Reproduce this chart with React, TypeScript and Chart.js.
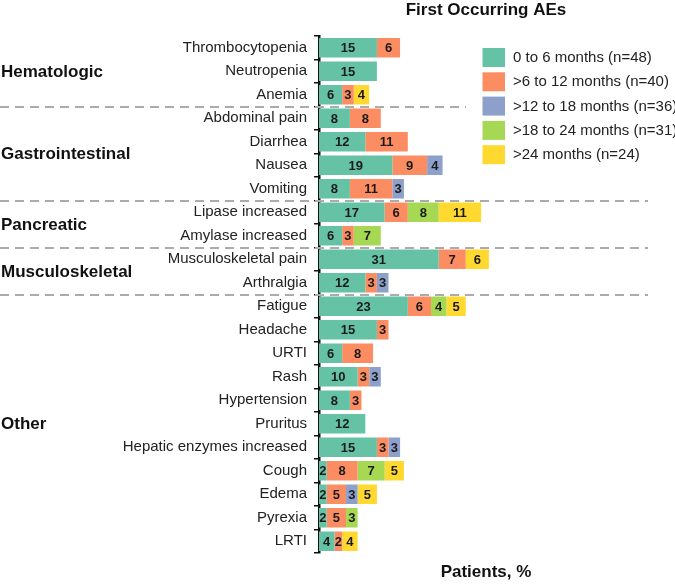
import React, { useEffect, useRef } from 'react';
import { Chart, registerables } from 'chart.js';

Chart.register(...registerables);

const FONT = '"Liberation Sans", Arial, Helvetica, sans-serif';

const categories = [
  'Thrombocytopenia', 'Neutropenia', 'Anemia',
  'Abdominal pain', 'Diarrhea', 'Nausea', 'Vomiting',
  'Lipase increased', 'Amylase increased',
  'Musculoskeletal pain', 'Arthralgia',
  'Fatigue', 'Headache', 'URTI', 'Rash', 'Hypertension', 'Pruritus',
  'Hepatic enzymes increased', 'Cough', 'Edema', 'Pyrexia', 'LRTI',
];

const seriesLabels = [
  '0 to 6 months (n=48)',
  '>6 to 12 months (n=40)',
  '>12 to 18 months (n=36)',
  '>18 to 24 months (n=31)',
  '>24 months (n=24)',
];

const seriesColors = ['#66C2A5', '#FC8D62', '#8DA0CB', '#A6D854', '#FFD92F'];

const months0to6 = [15, 15, 6, 8, 12, 19, 8, 17, 6, 31, 12, 23, 15, 6, 10, 8, 12, 15, 2, 2, 2, 4];
const months6to12 = [6, null, 3, 8, 11, 9, 11, 6, 3, 7, 3, 6, 3, 8, 3, 3, null, 3, 8, 5, 5, 2];
const months12to18 = [null, null, null, null, null, 4, 3, null, null, null, 3, null, null, null, 3, null, null, 3, null, 3, null, null];
const months18to24 = [null, null, null, null, null, null, null, 8, 7, null, null, 4, null, null, null, null, null, null, 7, null, 3, null];
const months24plus = [null, null, 4, null, null, null, null, 11, null, 6, null, 5, null, null, null, null, null, null, 5, 5, null, 4];

const seriesValues = [months0to6, months6to12, months12to18, months18to24, months24plus];

const groupNames = ['Hematologic', 'Gastrointestinal', 'Pancreatic', 'Musculoskeletal', 'Other'];
const groupFirstRow = [0, 3, 7, 9, 11];
const groupLastRow = [2, 6, 8, 10, 21];

const xMax = 86.5;

const decorPlugin = {
  id: 'decor',
  beforeDatasetsDraw(chart: any) {
    const ctx = chart.ctx;
    const y = chart.scales.y;
    ctx.save();
    ctx.strokeStyle = '#ababab';
    ctx.lineWidth = 2;
    ctx.setLineDash([9, 6]);
    for (let g = 0; g < groupNames.length - 1; g++) {
      const last = groupLastRow[g];
      const py = Math.round((y.getPixelForValue(last) + y.getPixelForValue(last + 1)) / 2);
      const xEnd = g === 0 ? 466 : 648;
      ctx.beginPath();
      ctx.moveTo(0, py);
      ctx.lineTo(xEnd, py);
      ctx.stroke();
    }
    ctx.restore();
  },
  afterDatasetsDraw(chart: any) {
    const ctx = chart.ctx;
    ctx.save();
    // value labels
    ctx.font = `bold 13px ${FONT}`;
    ctx.fillStyle = '#1a1a1a';
    ctx.textAlign = 'center';
    ctx.textBaseline = 'middle';
    chart.data.datasets.forEach((ds: any, i: number) => {
      const meta = chart.getDatasetMeta(i);
      meta.data.forEach((bar: any, j: number) => {
        const v = ds.data[j];
        if (v === null || v === undefined || v === 0) return;
        const p = bar.getProps(['x', 'y', 'base'], true);
        ctx.fillText(String(v), (p.x + p.base) / 2, p.y + 1);
      });
    });
    // group labels
    const y = chart.scales.y;
    ctx.font = `bold 17px ${FONT}`;
    ctx.fillStyle = '#111';
    ctx.textAlign = 'left';
    groupNames.forEach((name, g) => {
      const py = (y.getPixelForValue(groupFirstRow[g]) + y.getPixelForValue(groupLastRow[g])) / 2;
      ctx.fillText(name, 1, py + 1);
    });
    // legend
    ctx.font = `15px ${FONT}`;
    ctx.fillStyle = '#222';
    chart.data.datasets.forEach((ds: any, i: number) => {
      const top = 48 + i * 24.3;
      ctx.fillStyle = ds.backgroundColor;
      ctx.fillRect(482.5, top, 22.5, 19);
      ctx.fillStyle = '#222';
      ctx.fillText(ds.label, 513, top + 10);
    });
    ctx.restore();
  },
};

export default function App() {
  const canvasRef = useRef<HTMLCanvasElement | null>(null);

  useEffect(() => {
    if (!canvasRef.current) return;
    const chart = new Chart(canvasRef.current, {
      type: 'bar',
      data: {
        labels: categories,
        datasets: seriesValues.map((vals, i) => ({
          label: seriesLabels[i],
          data: vals,
          backgroundColor: seriesColors[i],
          borderWidth: 0,
          barPercentage: 0.83,
          categoryPercentage: 1,
        })),
      },
      options: {
        indexAxis: 'y',
        responsive: false,
        animation: false,
        layout: { padding: { left: 0, right: 22, top: 0, bottom: 0 } },
        plugins: {
          legend: { display: false },
          tooltip: { enabled: false },
          title: {
            display: true,
            text: 'First Occurring AEs',
            fullSize: false,
            color: '#111',
            font: { family: FONT, size: 17, weight: 'bold', lineHeight: 1.2 },
            padding: { top: 0, bottom: 15.6 },
          },
        },
        scales: {
          x: {
            stacked: true,
            min: 0,
            max: xMax,
            ticks: { display: false },
            grid: { display: false, drawTicks: false },
            border: { display: false },
            title: {
              display: true,
              text: 'Patients, %',
              color: '#111',
              font: { family: FONT, size: 17, weight: 'bold', lineHeight: 1.2 },
              padding: { top: 9.6, bottom: 4 },
            },
          },
          y: {
            stacked: true,
            afterFit(scale: any) {
              scale.width = 319;
            },
            ticks: {
              color: '#222',
              font: { family: FONT, size: 15 },
              padding: 7,
              autoSkip: false,
            },
            grid: {
              display: true,
              drawOnChartArea: false,
              drawTicks: true,
              tickLength: 5,
              offset: true,
              color: '#111',
              lineWidth: 1.5,
            },
            border: { display: true, color: '#111', width: 2.5 },
          },
        },
      },
      plugins: [decorPlugin],
    });
    return () => chart.destroy();
  }, []);

  return (
    <div style={{ position: 'fixed', left: 0, top: 0, width: 675, height: 587, background: '#fff' }}>
      <canvas ref={canvasRef} width={675} height={587} style={{ display: 'block', width: 675, height: 587 }} />
    </div>
  );
}
